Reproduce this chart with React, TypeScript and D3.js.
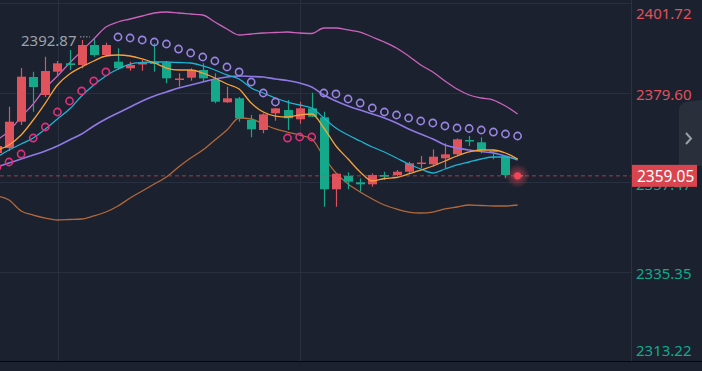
import React, { useEffect, useRef } from 'react';
import * as d3 from 'd3';

// candle OHLC, index 0 sits just off the left edge, the last one is the live candle
const opens = [
  2364.69, 2365.92, 2372.42, 2383.45, 2379.01, 2384.76, 2386.83, 2386.41, 2391.35, 2388.88,
  2387.23, 2385.60, 2386.54, 2387.23, 2386.98, 2382.83, 2383.28, 2385.18, 2382.71, 2377.21,
  2378.19, 2372.84, 2370.37, 2374.49, 2375.30, 2373.01, 2375.72, 2373.50, 2355.73, 2359.01,
  2357.46, 2356.96, 2359.26, 2359.26, 2360.07, 2361.97, 2361.90, 2363.38, 2364.37, 2367.90,
  2367.33, 2365.26, 2363.78, 2359.26,
];
const highs = [
  2367.16, 2376.12, 2385.67, 2384.76, 2388.46, 2387.40, 2390.12, 2392.59, 2392.87, 2391.92,
  2390.54, 2387.23, 2387.65, 2391.77, 2387.40, 2384.36, 2385.60, 2386.83, 2384.36, 2381.06,
  2378.51, 2374.07, 2374.49, 2375.80, 2377.77, 2377.35, 2379.58, 2374.89, 2359.70, 2359.92,
  2358.44, 2359.68, 2360.07, 2360.49, 2362.54, 2363.95, 2365.60, 2367.08, 2368.32, 2368.89,
  2368.57, 2365.60, 2363.95, 2359.30,
];
const lows = [
  2363.95, 2365.18, 2371.60, 2374.89, 2378.51, 2383.70, 2385.18, 2385.60, 2388.46, 2388.64,
  2385.18, 2385.01, 2385.01, 2384.76, 2381.90, 2381.06, 2382.54, 2382.29, 2376.96, 2377.03,
  2372.42, 2368.57, 2369.55, 2372.66, 2370.37, 2371.92, 2373.58, 2351.43, 2351.43, 2355.73,
  2355.14, 2356.37, 2358.02, 2359.01, 2359.68, 2360.91, 2361.31, 2360.91, 2364.20, 2366.42,
  2364.62, 2363.13, 2358.44, 2358.98,
];
const closes = [
  2366.42, 2372.42, 2383.53, 2380.98, 2384.93, 2386.83, 2386.41, 2391.35, 2388.88, 2391.35,
  2385.60, 2386.41, 2386.91, 2386.66, 2383.13, 2383.08, 2385.18, 2383.13, 2377.35, 2378.19,
  2373.26, 2370.54, 2374.24, 2375.72, 2373.26, 2375.72, 2373.65, 2355.73, 2359.58, 2357.60,
  2356.96, 2359.26, 2358.84, 2360.07, 2362.15, 2362.34, 2363.78, 2364.37, 2368.07, 2367.53,
  2365.43, 2364.94, 2359.26, 2359.05,
];

// moving averages
const ma5 = [
  2365.43, 2366.67, 2369.13, 2372.84, 2377.03, 2381.48, 2384.19, 2385.92, 2387.40, 2388.64,
  2388.88, 2388.64, 2387.90, 2386.91, 2385.67, 2385.18, 2385.18, 2384.44, 2383.21, 2381.72,
  2380.49, 2377.03, 2374.81, 2373.82, 2373.58, 2374.07, 2374.32, 2370.86, 2366.42, 2363.21,
  2360.00, 2357.78, 2358.40, 2358.64, 2359.51, 2360.49, 2361.48, 2362.72, 2363.95, 2364.94,
  2365.43, 2365.43, 2364.69, 2363.21,
];
const ma10 = [
  2363.70, 2365.43, 2366.91, 2368.39, 2370.62, 2373.08, 2375.55, 2378.76, 2381.48, 2383.70,
  2385.43, 2386.66, 2387.03, 2387.16, 2387.16, 2387.03, 2386.91, 2386.17, 2385.18, 2383.95,
  2382.96, 2380.74, 2379.50, 2378.27, 2377.28, 2376.54, 2375.80, 2373.33, 2370.86, 2369.13,
  2367.65, 2366.17, 2364.94, 2363.46, 2361.97, 2360.74, 2359.75, 2360.74, 2361.73, 2362.47,
  2363.21, 2363.70, 2363.70, 2363.21,
];

// bollinger bands
const bollUpper = [
  2367.90, 2370.12, 2373.58, 2376.79, 2380.74, 2383.70, 2386.91, 2389.87, 2392.83, 2395.80,
  2397.03, 2397.77, 2398.51, 2399.25, 2399.50, 2399.25, 2399.00, 2398.76, 2397.03, 2395.30,
  2393.82, 2394.07, 2394.31, 2394.44, 2394.56, 2394.31, 2394.19, 2395.55, 2395.55, 2395.06,
  2394.56, 2393.33, 2392.09, 2390.61, 2388.64, 2386.41, 2384.69, 2382.47, 2380.49, 2379.01,
  2378.27, 2377.77, 2376.29, 2374.32,
];
const bollMid = [
  2361.23, 2362.22, 2363.21, 2364.20, 2365.18, 2366.42, 2367.90, 2369.38, 2371.36, 2373.08,
  2374.56, 2376.05, 2377.53, 2378.76, 2379.75, 2380.74, 2381.48, 2382.22, 2382.96, 2383.45,
  2383.70, 2383.58, 2383.45, 2382.96, 2382.59, 2381.97, 2380.98, 2379.01, 2377.53, 2376.29,
  2375.31, 2374.32, 2373.33, 2372.10, 2370.62, 2369.38, 2368.15, 2366.67, 2365.92, 2365.43,
  2365.06, 2364.69, 2363.95, 2362.96,
];
const bollLower = [
  2354.07, 2353.09, 2350.37, 2349.38, 2348.64, 2348.15, 2348.27, 2348.40, 2349.14, 2350.12,
  2351.61, 2353.58, 2355.31, 2357.04, 2358.77, 2361.23, 2363.46, 2365.43, 2367.90, 2370.37,
  2373.33, 2373.08, 2371.85, 2370.62, 2369.87, 2369.13, 2368.15, 2363.70, 2359.75, 2357.04,
  2355.06, 2353.33, 2351.85, 2350.87, 2350.12, 2349.88, 2350.12, 2350.87, 2351.36, 2351.85,
  2351.73, 2351.61, 2351.61, 2351.85,
];

// parabolic SAR
const sar = [
  2361.23, 2362.47, 2364.44, 2368.39, 2371.11, 2374.81, 2377.53, 2380.00, 2382.47, 2384.69,
  2393.33, 2393.08, 2392.59, 2392.09, 2391.60, 2390.36, 2389.38, 2388.39, 2387.40, 2385.92,
  2384.69, 2382.22, 2379.50, 2377.28, 2368.39, 2368.64, 2368.64, 2379.50, 2379.26, 2378.02,
  2377.03, 2375.80, 2374.81, 2374.07, 2373.33, 2372.59, 2372.10, 2371.36, 2370.86, 2370.74,
  2370.37, 2369.87, 2369.38, 2368.89,
];

const priceTicks = [2401.72, 2379.60, 2357.47, 2335.35, 2313.22];
const lastPrice = 2359.05;
const highLabel = '2392.87';

const W = 702;
const H = 371;
const plotW = 631;
const plotH = 361.5;

const UP = '#e0525c';
const DOWN = '#14a98b';

const CandleChart = () => {
  const svgRef = useRef(null);

  useEffect(() => {
    const svg = d3.select(svgRef.current);
    svg.selectAll('*').remove();

    const x = d3.scaleLinear().domain([0, closes.length - 1]).range([-3.1, 517.6]);
    const y = d3.scaleLinear().domain([2313.22, 2401.72]).range([361.5, 3]);

    const defs = svg.append('defs');
    defs.append('clipPath').attr('id', 'plot-clip')
      .append('rect').attr('x', 0).attr('y', 0).attr('width', plotW).attr('height', plotH);
    const glow = defs.append('radialGradient').attr('id', 'dot-glow');
    glow.append('stop').attr('offset', '0%').attr('stop-color', '#ff4b5c').attr('stop-opacity', 0.6);
    glow.append('stop').attr('offset', '100%').attr('stop-color', '#ff4b5c').attr('stop-opacity', 0);

    svg.append('rect').attr('width', W).attr('height', H).attr('fill', '#1b212e');

    // grid
    const grid = svg.append('g');
    priceTicks.slice(0, 4).forEach((t) => {
      grid.append('line')
        .attr('x1', 0).attr('x2', plotW)
        .attr('y1', Math.round(y(t)) + 0.5).attr('y2', Math.round(y(t)) + 0.5)
        .attr('stroke', '#283040');
    });
    [58.5, 300.5].forEach((gx) => {
      grid.append('line')
        .attr('x1', gx).attr('x2', gx).attr('y1', 0).attr('y2', plotH)
        .attr('stroke', '#283040');
    });

    const plot = svg.append('g').attr('clip-path', 'url(#plot-clip)');
    const idx = d3.range(closes.length);

    const drawLine = (vals, color, width) => {
      const line = d3.line().x((d, i) => x(i)).y((d) => y(d)).curve(d3.curveMonotoneX);
      plot.append('path')
        .attr('d', line(vals))
        .attr('fill', 'none')
        .attr('stroke', color)
        .attr('stroke-width', width);
    };

    drawLine(bollUpper, '#cc63bd', 1.3);
    drawLine(bollLower, '#b3683a', 1.3);

    // candles
    const bodyW = 9;
    const candles = plot.selectAll('.candle').data(idx).enter().append('g');
    candles.append('line')
      .attr('x1', (i) => Math.round(x(i)) + 0.5)
      .attr('x2', (i) => Math.round(x(i)) + 0.5)
      .attr('y1', (i) => y(highs[i]))
      .attr('y2', (i) => y(lows[i]))
      .attr('stroke', (i) => (closes[i] >= opens[i] ? UP : DOWN))
      .attr('stroke-width', 1.2);
    candles.append('rect')
      .attr('x', (i) => Math.round(x(i)) + 0.5 - bodyW / 2)
      .attr('width', bodyW)
      .attr('y', (i) => y(Math.max(opens[i], closes[i])))
      .attr('height', (i) => Math.max(1.5, Math.abs(y(opens[i]) - y(closes[i]))))
      .attr('fill', (i) => (closes[i] >= opens[i] ? UP : DOWN));

    drawLine(bollMid, '#8f79e6', 1.6);
    drawLine(ma10, '#1db4d4', 1.3);
    drawLine(ma5, '#f5a23c', 1.3);

    // SAR dots
    plot.selectAll('.sar').data(idx).enter().append('circle')
      .attr('cx', (i) => x(i))
      .attr('cy', (i) => y(sar[i]))
      .attr('r', 3.6)
      .attr('fill', 'none')
      .attr('stroke-width', 1.6)
      .attr('stroke', (i) => (sar[i] > closes[i] ? '#9a84e4' : '#e0307e'));

    // last price dashed line
    svg.append('line')
      .attr('x1', 0).attr('x2', plotW)
      .attr('y1', y(lastPrice)).attr('y2', y(lastPrice))
      .attr('stroke', '#c84a5a')
      .attr('stroke-opacity', 0.75)
      .attr('stroke-dasharray', '4,3');

    // pulsing dot on the live candle
    const liveX = x(closes.length - 1);
    svg.append('circle').attr('cx', liveX).attr('cy', y(lastPrice)).attr('r', 12).attr('fill', 'url(#dot-glow)');
    svg.append('circle').attr('cx', liveX).attr('cy', y(lastPrice)).attr('r', 3.6).attr('fill', '#f04657');

    // highest price marker
    const hiIdx = highs.indexOf(d3.max(highs));
    const hiY = y(highs[hiIdx]);
    svg.append('text')
      .attr('x', 21).attr('y', hiY + 1)
      .attr('dominant-baseline', 'central')
      .attr('fill', '#9ea2aa')
      .style('font-family', '"Noto Sans", sans-serif')
      .style('font-size', '15px')
      .text(highLabel);
    svg.append('line')
      .attr('x1', 80).attr('x2', x(hiIdx) - 4)
      .attr('y1', hiY - 2).attr('y2', hiY - 2)
      .attr('stroke', '#9ea2aa')
      .attr('stroke-dasharray', '1.5,1.5');

    // axis frame
    svg.append('line')
      .attr('x1', plotW + 0.5).attr('x2', plotW + 0.5).attr('y1', 0).attr('y2', plotH)
      .attr('stroke', '#2b3343');
    svg.append('line')
      .attr('x1', 0).attr('x2', W).attr('y1', 361.5).attr('y2', 361.5)
      .attr('stroke', '#05070b').attr('stroke-width', 1.2);

    // price labels
    svg.append('g').selectAll('text').data(priceTicks).enter().append('text')
      .attr('x', 636)
      .attr('y', (t) => Math.min(350, Math.max(13, y(t) + 1.5)))
      .attr('dominant-baseline', 'central')
      .attr('fill', (t) => (t > lastPrice ? UP : DOWN))
      .style('font-family', '"Noto Sans", sans-serif')
      .style('font-size', '15px')
      .text((t) => t.toFixed(2));

    // side tab with chevron
    svg.append('path')
      .attr('d', 'M679,110 Q679,104 686,102 L702,100 L702,166 L679,166 Z')
      .attr('fill', '#2a303b');
    svg.append('path')
      .attr('d', 'M686,133 L691,138.5 L686,144')
      .attr('fill', 'none')
      .attr('stroke', '#9a9ea6')
      .attr('stroke-width', 2);

    // current price box
    svg.append('rect')
      .attr('x', 632).attr('y', y(lastPrice) - 11)
      .attr('width', 65).attr('height', 22)
      .attr('fill', '#d9444f');
    svg.append('text')
      .attr('x', 637).attr('y', y(lastPrice) + 0.5)
      .attr('dominant-baseline', 'central')
      .attr('fill', '#ffffff')
      .style('font-family', '"Noto Sans", sans-serif')
      .style('font-size', '15.5px')
      .text(lastPrice.toFixed(2));
  }, []);

  return (
    <div style={{ position: 'fixed', left: 0, top: 0, width: W, height: H, background: '#1b212e' }}>
      <svg ref={svgRef} width={W} height={H} style={{ display: 'block' }} />
    </div>
  );
};

export default function App() {
  return <CandleChart />;
}
